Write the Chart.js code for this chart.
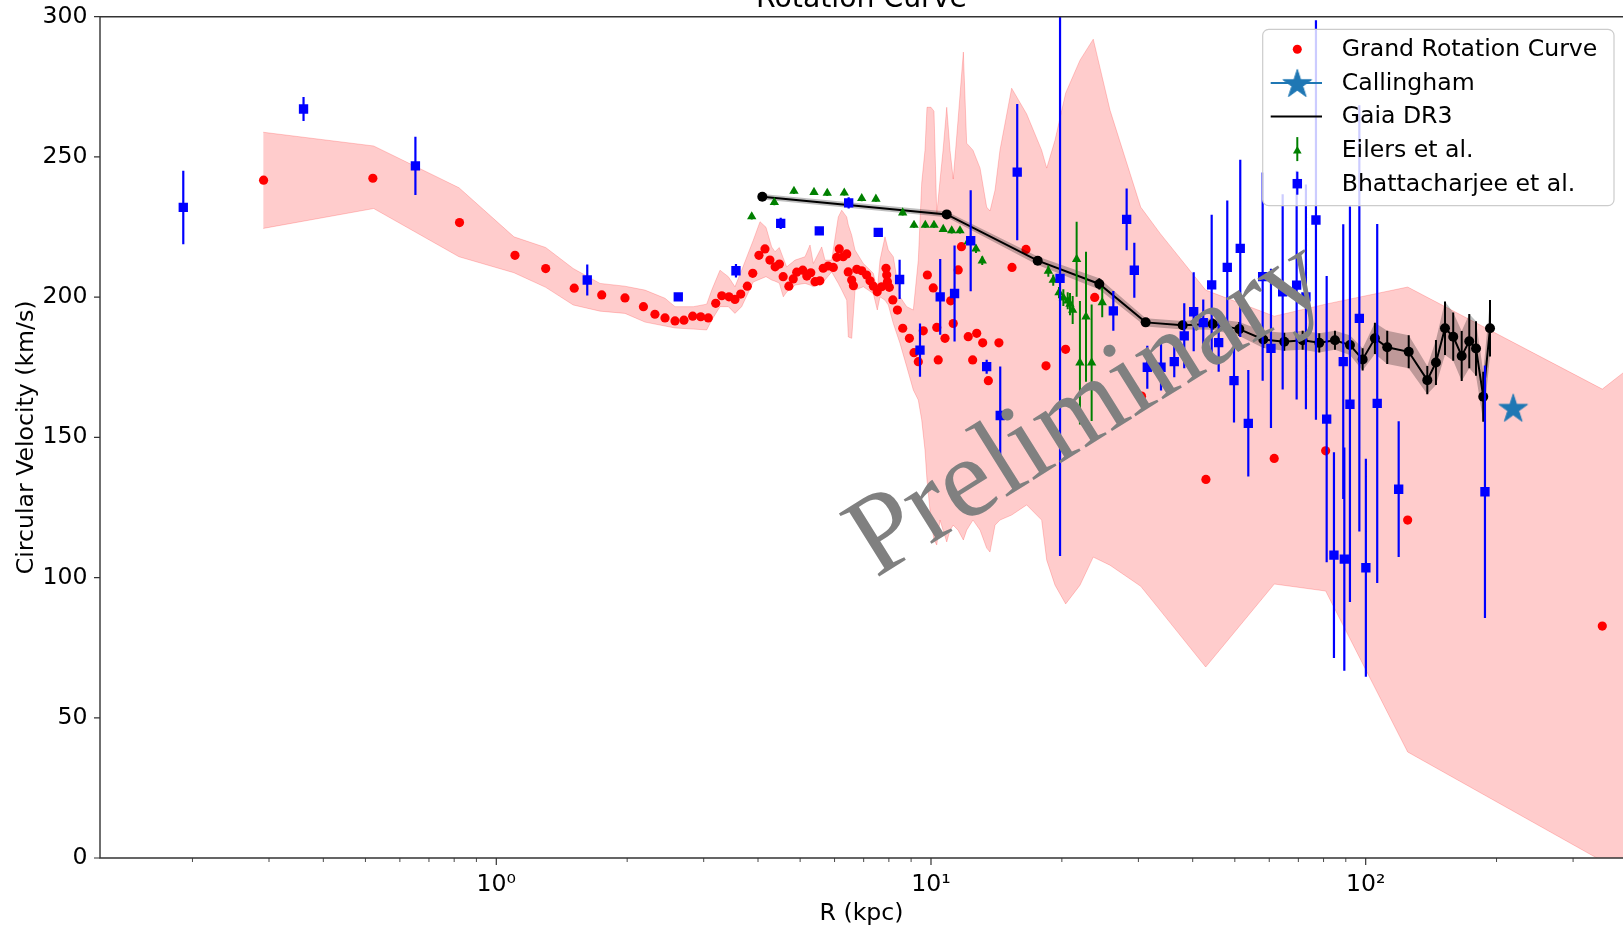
<!DOCTYPE html>
<html>
<head>
<meta charset="utf-8">
<title>Rotation Curve</title>
<script src="https://cdn.jsdelivr.net/npm/chart.js@4.4.1/dist/chart.umd.min.js"></script>
<style>
  html, body { margin: 0; padding: 0; background: #ffffff; }
  canvas { display: block; }
</style>
</head>
<body>
<canvas id="rotationChart" width="1623" height="931"></canvas>
<script>
// ---- data ----
// Grand Rotation Curve (red dots)
const grcR = [0.2915, 0.520, 0.823, 1.104, 1.299, 1.511, 1.748, 1.977, 2.18, 2.317, 2.444, 2.577, 2.702, 2.83, 2.953,
  3.074, 3.197, 3.301, 3.43, 3.54, 3.65, 3.78, 3.89, 4.02, 4.15, 4.26, 4.38, 4.48, 4.57, 4.71, 4.82, 4.91, 5.07, 5.18,
  5.29, 5.41, 5.55, 5.65, 5.80, 5.96, 6.07, 6.15, 6.28, 6.40, 6.45, 6.57, 6.63, 6.75, 6.93, 7.11, 7.24, 7.37, 7.52,
  7.70, 7.88, 7.91, 7.94, 8.02, 8.17, 8.37, 8.61, 8.92, 9.14, 9.35, 9.60, 9.81, 10.12, 10.31, 10.39, 10.77, 11.1,
  11.25, 11.55, 11.75, 12.18, 12.47, 12.74, 13.15, 13.55, 14.33, 15.36, 16.54, 18.39, 20.4, 23.8, 30.5, 42.9, 61.6,
  80.9, 124.9, 350.2];
const grcV = [241.7, 242.4, 226.6, 214.9, 210.2, 203.2, 200.8, 199.7, 196.6, 193.9, 192.6, 191.5, 191.8, 193.2, 193.0,
  192.6, 197.8, 200.5, 200.1, 199.2, 201.1, 203.9, 208.5, 214.9, 217.2, 213.2, 210.8, 211.8, 207.3, 203.9, 206.5, 208.9,
  209.6, 207.5, 208.7, 205.5, 205.8, 210.3, 211.1, 210.6, 214.2, 217.2, 214.4, 215.4, 209.0, 206.1, 204.1, 209.9, 209.4,
  207.9, 205.8, 203.9, 201.9, 203.7, 210.3, 207.9, 205.5, 203.5, 199.0, 195.4, 188.9, 185.3, 180.2, 177.0, 188.0, 207.9,
  203.3, 189.2, 177.6, 185.3, 198.7, 190.6, 209.7, 218.0, 185.9, 177.6, 187.1, 183.7, 170.2, 183.7, 210.6, 217.0, 175.5,
  181.4, 199.9, 164.7, 135.0, 142.5, 145.2, 120.5, 82.7];

// shaded uncertainty of the Grand Rotation Curve
const bandR = [0.2909, 0.5223, 0.8208, 1.098, 1.299, 1.503, 1.732, 1.977, 2.198, 2.444, 2.577, 2.84, 3.048, 3.13, 3.27,
  3.418, 3.54, 3.668, 3.901, 4.043, 4.173, 4.30, 4.376, 4.477, 4.573, 4.656, 4.866, 5.131, 5.269, 5.362, 5.605, 5.703,
  5.909, 6.12, 6.232, 6.399, 6.454, 6.571, 6.687, 6.987, 7.367, 7.524, 7.633, 7.837, 7.976, 8.19, 8.486, 8.793, 9.106,
  9.35, 9.52, 9.687, 9.79, 10.0, 10.16, 10.31, 10.49, 10.66, 10.87, 11.06, 11.25, 11.54, 11.87, 12.08, 12.49, 12.97,
  13.43, 13.67, 14.04, 14.41, 15.33, 16.6, 17.97, 18.46, 19.29, 20.41, 22.02, 23.62, 25.81, 30.37, 33.63, 42.85, 61.63,
  80.9, 124.9, 350.2, 450];
const bandHi = [258.8, 253.9, 239.0, 221.5, 217.7, 210.2, 204.9, 203.9, 202.5, 199.6, 196.6, 196.6, 197.5, 202.5, 209.6,
  207.3, 203.7, 209.6, 220.3, 226.9, 224.9, 217.9, 216.2, 217.7, 213.9, 210.8, 213.2, 214.4, 218.6, 212.0, 217.9, 213.2,
  213.2, 228.6, 231.0, 228.6, 225.7, 222.1, 216.8, 212.0, 208.5, 202.5, 213.2, 221.5, 216.8, 214.4, 200.1, 196.6, 195.4,
  213.2, 240.7, 252.4, 267.7, 267.7, 266.3, 229.6, 241.7, 252.4, 267.7, 252.4, 242.1, 263.1, 287.4, 254.9, 252.4, 246.0,
  232.1, 230.7, 238.2, 252.4, 274.5, 265.3, 252.4, 246.0, 256.0, 272.8, 284.5, 292.0, 266.7, 232.1, 222.8, 202.5, 193.2,
  197.5, 203.6, 167.2, 180.4];
const bandLo = [224.5, 231.6, 214.4, 208.7, 203.5, 197.2, 195.0, 194.2, 191.1, 189.7, 189.0, 188.6, 188.3, 191.8, 196.6,
  196.6, 194.2, 196.6, 205.4, 206.4, 207.3, 206.1, 205.7, 205.0, 200.1, 201.8, 204.3, 204.9, 204.3, 203.7, 204.9, 206.1,
  209.0, 204.9, 202.5, 198.9, 185.8, 185.3, 202.5, 203.7, 201.3, 195.4, 200.1, 198.9, 197.2, 190.6, 183.5, 175.2, 166.9,
  163.3, 156.2, 145.5, 134.8, 120.5, 113.4, 111.6, 120.5, 116.9, 112.7, 116.9, 118.7, 116.9, 113.4, 116.9, 120.5, 116.9,
  110.5, 109.1, 118.7, 120.5, 122.3, 125.9, 120.5, 106.2, 97.3, 90.6, 97.3, 107.3, 104.4, 96.9, 88.4, 68.1, 97.7,
  95.2, 37.8, -1.1, -10];

// Callingham
const callR = [218.5];
const callV = [160.6];

// Gaia DR3
const gaiaR = [4.092, 10.87, 17.60, 24.39, 31.18, 37.93, 44.46, 51.20, 58.13, 64.96, 71.61, 78.20, 84.98, 92.0, 98.4,
  105.0, 112.1, 125.6, 138.6, 145.1, 152.2, 159.0, 166.3, 173.1, 179.4, 186.4, 193.2];
const gaiaV = [235.8, 229.5, 213.0, 204.7, 191.0, 190.0, 190.4, 188.6, 184.9, 184.1, 184.6, 183.7, 184.6, 182.9, 177.8,
  185.3, 182.1, 180.5, 170.4, 176.7, 188.9, 185.9, 179.0, 184.3, 181.7, 164.5, 188.9];
const gaiaErr = [1, 1, 1.5, 2, 1.5, 1.5, 2, 2.5, 3, 3.2, 3.4, 3.4, 3.4, 3.5, 4, 5.6, 5.9, 5.9, 5, 8, 9.5, 8.6, 8.9,
  9.7, 9.7, 8.9, 10.1];

// Eilers et al.
const eilersR = [3.869, 4.361, 4.839, 5.381, 5.772, 6.317, 6.928, 7.470, 8.607, 9.140, 9.703, 10.16, 10.67, 11.16, 11.66,
  12.18, 12.69, 13.12, 18.62, 19.11, 19.70, 20.16, 20.63, 20.88, 21.18, 21.63, 22.01, 22.73, 23.42, 24.77];
const eilersV = [228.7, 233.8, 237.8, 237.4, 237.1, 237.2, 235.2, 235.0, 230.1, 225.7, 225.7, 225.7, 224.2, 223.7, 223.7,
  219.8, 217.2, 213.0, 209.3, 206.1, 201.6, 199.8, 198.7, 197.5, 195.4, 213.5, 176.6, 193.0, 176.6, 198.1];
const eilersErr = [1, 1, 1, 1, 1, 1, 1, 1, 1, 1, 1, 1, 1, 1, 1, 1, 1.5, 1.5, 2, 2, 2, 3, 3, 4, 5, 13.4, 22, 23.2, 20.8, 5.3];

// Bhattacharjee et al.
const bhattR = [0.1905, 0.3602, 0.6515, 1.619, 2.622, 3.559, 4.511, 5.534, 6.466, 7.563, 8.469, 9.434, 10.50, 11.33, 12.34,
  13.43, 14.43, 15.79, 19.81, 26.27, 28.19, 29.36, 31.45, 33.82, 36.28, 38.25, 40.21, 42.30, 44.23, 45.90, 48.04, 49.78,
  51.46, 53.70, 57.94, 60.55, 64.42, 69.37, 72.87, 76.84, 81.33, 84.53, 88.8, 89.3, 92.0, 96.7, 100.1, 106.3, 119.1, 188.1];
const bhattV = [232.0, 267.1, 246.8, 206.1, 200.1, 209.4, 226.3, 223.6, 233.6, 223.1, 206.3, 181.1, 200.1, 201.3, 220.1,
  175.2, 157.8, 244.6, 206.7, 195.1, 227.7, 209.6, 175.0, 175.0, 177.0, 186.2, 194.8, 190.9, 204.4, 183.8, 210.6, 170.2,
  217.4, 155.0, 207.3, 181.7, 201.9, 204.3, 200.1, 227.5, 156.5, 108.0, 177.0, 106.6, 161.8, 192.4, 103.5, 162.1, 131.5, 130.6];
const bhattErr = [13.1, 4.3, 10.4, 5.5, 1, 2.4, 2, 1, 2, 1, 7, 9.5, 13.5, 17.1, 18, 2.5, 17.5, 24.3, 99, 7.1, 11, 9.8,
  7.7, 8.3, 5.6, 11.6, 14.1, 8.3, 25, 10.4, 23.9, 14.9, 31.6, 19, 37.1, 28.4, 34.8, 40.8, 40.1, 71.2, 51, 36.7, 49, 39.8,
  70.5, 76, 38.9, 64, 24.2, 45];

// axes
const xMin = 0.12255;
const xMax = 390.8;
const xTickValues = [1, 10, 100];
const xTickLabels = ["10\u2070", "10\u00b9", "10\u00b2"];
const yTickStep = 50;

const legendLabels = ["Grand Rotation Curve", "Callingham", "Gaia DR3", "Eilers et al.", "Bhattacharjee et al."];

const FONT = '"DejaVu Sans", sans-serif';
const FS = 23.6;
const TAB_BLUE = "#1f77b4";

const pts = (xs, ys) => xs.map((x, i) => ({ x: x, y: ys[i] }));

// filled five point star like matplotlib's "*"
function makeStar(r, color) {
  const c = document.createElement("canvas");
  const s = Math.ceil(2 * r + 4);
  c.width = s;
  c.height = s;
  const g = c.getContext("2d");
  g.translate(s / 2, s / 2 + r * 0.1);
  g.beginPath();
  for (let i = 0; i < 10; i++) {
    const rad = i % 2 === 0 ? r : r * 0.382;
    const a = -Math.PI / 2 + (i * Math.PI) / 5;
    g.lineTo(rad * Math.cos(a), rad * Math.sin(a));
  }
  g.closePath();
  g.fillStyle = color;
  g.strokeStyle = color;
  g.lineWidth = 1;
  g.fill();
  g.stroke();
  return c;
}

document.addEventListener("DOMContentLoaded", () => {
  const star = makeStar(15, TAB_BLUE);

  // vertical error bars, drawn just under each dataset's markers
  const errorBars = {
    id: "errorBars",
    beforeDatasetDraw(chart, args) {
      const ds = chart.data.datasets[args.index];
      if (!ds.errors) return;
      const { ctx, chartArea: a, scales } = chart;
      ctx.save();
      ctx.beginPath();
      ctx.rect(a.left, a.top, a.right - a.left, a.bottom - a.top);
      ctx.clip();
      ctx.strokeStyle = ds.errorColor;
      ctx.lineWidth = ds.errorWidth;
      ctx.beginPath();
      ds.data.forEach((p, i) => {
        const px = scales.x.getPixelForValue(p.x);
        ctx.moveTo(px, scales.y.getPixelForValue(p.y - ds.errors[i]));
        ctx.lineTo(px, scales.y.getPixelForValue(p.y + ds.errors[i]));
      });
      ctx.stroke();
      ctx.restore();
    },
  };

  // spines and tick marks (major + minor) in matplotlib style
  const frame = {
    id: "frame",
    afterDatasetsDraw(chart) {
      const { ctx, chartArea: a, scales } = chart;
      ctx.save();
      ctx.strokeStyle = "#333333";
      ctx.lineWidth = 1.4;
      ctx.beginPath();
      ctx.moveTo(a.left, a.top);
      ctx.lineTo(a.right + 2, a.top);
      ctx.moveTo(a.left, a.top);
      ctx.lineTo(a.left, a.bottom);
      ctx.lineTo(a.right + 2, a.bottom);
      ctx.stroke();

      ctx.lineWidth = 1.2;
      ctx.beginPath();
      for (let v = 0; v <= 300; v += yTickStep) {
        const py = scales.y.getPixelForValue(v);
        ctx.moveTo(a.left - 6, py);
        ctx.lineTo(a.left, py);
      }
      xTickValues.forEach((v) => {
        const px = scales.x.getPixelForValue(v);
        ctx.moveTo(px, a.bottom);
        ctx.lineTo(px, a.bottom + 7);
      });
      ctx.stroke();

      ctx.lineWidth = 0.9;
      ctx.beginPath();
      for (let e = -1; e <= 2; e++) {
        for (let k = 2; k <= 9; k++) {
          const v = k * Math.pow(10, e);
          if (v < xMin || v > xMax) continue;
          const px = scales.x.getPixelForValue(v);
          ctx.moveTo(px, a.bottom);
          ctx.lineTo(px, a.bottom + 4);
        }
      }
      ctx.stroke();
      ctx.restore();
    },
  };

  const legendBox = {
    id: "legendBox",
    afterDraw(chart) {
      const ctx = chart.ctx;
      const bx = 1262.7, by = 29.3, bw = 351.3, bh = 176.4, r = 6;
      ctx.save();
      ctx.beginPath();
      ctx.moveTo(bx + r, by);
      ctx.arcTo(bx + bw, by, bx + bw, by + bh, r);
      ctx.arcTo(bx + bw, by + bh, bx, by + bh, r);
      ctx.arcTo(bx, by + bh, bx, by, r);
      ctx.arcTo(bx, by, bx + bw, by, r);
      ctx.closePath();
      ctx.fillStyle = "rgba(255,255,255,0.8)";
      ctx.fill();
      ctx.strokeStyle = "#cccccc";
      ctx.lineWidth = 1.2;
      ctx.stroke();

      const hx = 1297.3;
      const rows = [49.3, 82.9, 116.5, 150.1, 183.7];
      const dp = Chart.helpers.drawPoint;

      ctx.fillStyle = "red";
      dp(ctx, { pointStyle: "circle", radius: 4.5, rotation: 0, borderWidth: 0 }, hx, rows[0]);

      ctx.strokeStyle = TAB_BLUE;
      ctx.lineWidth = 2;
      ctx.beginPath();
      ctx.moveTo(1270.7, rows[1]);
      ctx.lineTo(1322, rows[1]);
      ctx.stroke();
      ctx.drawImage(star, hx - star.width / 2, rows[1] - star.height / 2);

      ctx.strokeStyle = "#000000";
      ctx.beginPath();
      ctx.moveTo(1270.7, rows[2]);
      ctx.lineTo(1322, rows[2]);
      ctx.stroke();

      ctx.strokeStyle = "green";
      ctx.beginPath();
      ctx.moveTo(hx, rows[3] - 13);
      ctx.lineTo(hx, rows[3] + 11);
      ctx.stroke();
      ctx.fillStyle = "green";
      dp(ctx, { pointStyle: "triangle", radius: 5, rotation: 0, borderWidth: 0 }, hx, rows[3] + 1);

      ctx.strokeStyle = "blue";
      ctx.lineWidth = 2.2;
      ctx.beginPath();
      ctx.moveTo(hx, rows[4] - 12);
      ctx.lineTo(hx, rows[4] + 11);
      ctx.stroke();
      ctx.fillStyle = "blue";
      dp(ctx, { pointStyle: "rect", radius: 6.7, rotation: 0, borderWidth: 0 }, hx, rows[4]);

      ctx.fillStyle = "#000000";
      ctx.font = FS + "px " + FONT;
      ctx.textAlign = "left";
      ctx.textBaseline = "alphabetic";
      legendLabels.forEach((t, i) => ctx.fillText(t, 1341.7, rows[i] + 6.9));
      ctx.restore();
    },
  };

  const decorations = {
    id: "decorations",
    afterDraw(chart) {
      const ctx = chart.ctx;
      ctx.save();
      // title, cut off by the top of the image
      ctx.fillStyle = "#000000";
      ctx.font = "28.3px " + FONT;
      ctx.textAlign = "center";
      ctx.textBaseline = "alphabetic";
      ctx.fillText("Rotation Curve", (chart.chartArea.left + chart.chartArea.right) / 2, 7.3);
      // watermark
      ctx.translate(1104, 436);
      ctx.rotate((-32 * Math.PI) / 180);
      ctx.fillStyle = "#808080";
      ctx.font = '114px "Liberation Serif", serif';
      ctx.fillText("Preliminary", 0, 0);
      ctx.restore();
    },
  };

  const gaiaHi = gaiaV.map((v, i) => v + gaiaErr[i]);
  const gaiaLo = gaiaV.map((v, i) => v - gaiaErr[i]);

  const data = {
    datasets: [
      {
        label: "band upper",
        data: pts(bandR, bandHi),
        borderColor: "rgba(255, 0, 0, 0.2)",
        borderWidth: 1,
        pointRadius: 0,
        fill: false,
        order: 100,
      },
      {
        label: "band lower",
        data: pts(bandR, bandLo),
        borderColor: "rgba(255, 0, 0, 0.2)",
        backgroundColor: "rgba(255, 0, 0, 0.2)",
        borderWidth: 1,
        pointRadius: 0,
        fill: 0,
        order: 99,
      },
      {
        label: "Grand Rotation Curve",
        data: pts(grcR, grcV),
        showLine: false,
        pointStyle: "circle",
        pointRadius: 4.6,
        pointBackgroundColor: "red",
        pointBorderWidth: 0,
        order: 90,
      },
      {
        label: "gaia upper",
        data: pts(gaiaR, gaiaHi),
        borderColor: "rgba(0,0,0,0)",
        borderWidth: 1,
        pointRadius: 0,
        fill: false,
        order: 80,
      },
      {
        label: "gaia lower",
        data: pts(gaiaR, gaiaLo),
        borderColor: "rgba(0,0,0,0)",
        backgroundColor: "rgba(0, 0, 0, 0.25)",
        borderWidth: 1,
        pointRadius: 0,
        fill: 3,
        order: 79,
      },
      {
        label: "Callingham",
        data: pts(callR, callV),
        showLine: false,
        pointStyle: star,
        pointRadius: 15,
        order: 70,
      },
      {
        label: "Gaia DR3",
        data: pts(gaiaR, gaiaV),
        errors: gaiaErr,
        errorColor: "#000000",
        errorWidth: 2,
        borderColor: "#000000",
        borderWidth: 2,
        pointStyle: "circle",
        pointRadius: 5,
        pointBackgroundColor: "#000000",
        pointBorderWidth: 0,
        order: 60,
      },
      {
        label: "Eilers et al.",
        data: pts(eilersR, eilersV),
        errors: eilersErr,
        errorColor: "green",
        errorWidth: 2,
        showLine: false,
        pointStyle: "triangle",
        pointRadius: 5.4,
        pointBackgroundColor: "green",
        pointBorderWidth: 0,
        order: 50,
      },
      {
        label: "Bhattacharjee et al.",
        data: pts(bhattR, bhattV),
        errors: bhattErr,
        errorColor: "blue",
        errorWidth: 2.2,
        showLine: false,
        pointStyle: "rect",
        pointRadius: 6.6,
        pointBackgroundColor: "blue",
        pointBorderWidth: 0,
        order: 40,
      },
    ],
  };

  data.datasets.forEach((d) => {
    d.clip = 0;
  });

  const config = {
    type: "line",
    data: data,
    options: {
      responsive: false,
      maintainAspectRatio: false,
      animation: false,
      devicePixelRatio: 1,
      events: [],
      layout: { autoPadding: false, padding: { top: 16.7, right: 0, bottom: 0, left: 0 } },
      elements: { line: { tension: 0 } },
      scales: {
        x: {
          type: "logarithmic",
          min: xMin,
          max: xMax,
          grid: { display: false, drawTicks: false, drawOnChartArea: false },
          border: { display: false },
          afterBuildTicks: (scale) => {
            scale.ticks = xTickValues.map((v) => ({ value: v }));
          },
          ticks: {
            autoSkip: false,
            maxRotation: 0,
            padding: 12.5,
            color: "#000000",
            font: { family: FONT, size: FS },
            callback: (v, i) => xTickLabels[i],
          },
          title: {
            display: true,
            text: "R (kpc)",
            color: "#000000",
            font: { family: FONT, size: FS },
            padding: { top: 0, bottom: 2.8 },
          },
          afterFit: (scale) => {
            scale.height = 73;
            scale.paddingLeft = 0;
            scale.paddingRight = 0;
          },
        },
        y: {
          type: "linear",
          min: 0,
          max: 300,
          grid: { display: false, drawTicks: false, drawOnChartArea: false },
          border: { display: false },
          ticks: {
            stepSize: yTickStep,
            autoSkip: false,
            padding: 12.5,
            color: "#000000",
            font: { family: FONT, size: FS },
          },
          title: {
            display: true,
            text: "Circular Velocity (km/s)",
            color: "#000000",
            font: { family: FONT, size: FS },
            padding: { top: 12.7, bottom: 0 },
          },
          afterFit: (scale) => {
            scale.width = 100;
            scale.paddingTop = 0;
            scale.paddingBottom = 0;
          },
        },
      },
      plugins: {
        legend: { display: false },
        tooltip: { enabled: false },
        title: { display: false },
      },
    },
    plugins: [errorBars, frame, legendBox, decorations],
  };

  const ctx = document.getElementById("rotationChart").getContext("2d");
  const rotationChart = new Chart(ctx, config);
});
</script>
</body>
</html>
